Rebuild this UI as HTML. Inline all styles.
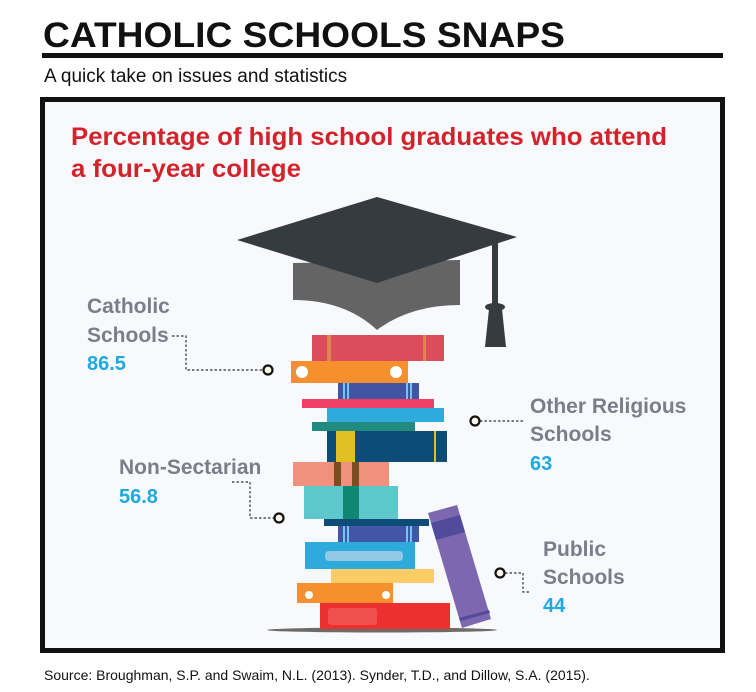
<!DOCTYPE html>
<html><head><meta charset="utf-8"><style>
html,body{margin:0;padding:0;background:#fff;}
body{width:756px;height:692px;overflow:hidden;position:relative;font-family:"Liberation Sans",sans-serif;}
svg{position:absolute;left:0;top:0;}
</style></head><body>
<svg width="756" height="692" viewBox="0 0 756 692" xmlns="http://www.w3.org/2000/svg" font-family="Liberation Sans, sans-serif">
<text x="43" y="47" font-size="35" font-weight="bold" fill="#111" textLength="522" lengthAdjust="spacingAndGlyphs">CATHOLIC SCHOOLS SNAPS</text>
<rect x="42" y="53" width="681" height="5" fill="#111"/>
<text x="44" y="82" font-size="19" fill="#111">A quick take on issues and statistics</text>
<rect x="42.5" y="99.5" width="680" height="551" fill="#f8f9fc" stroke="#111" stroke-width="5"/>
<text x="71" y="145" font-size="25" font-weight="bold" fill="#d3232a" textLength="596" lengthAdjust="spacingAndGlyphs">Percentage of high school graduates who attend</text>
<text x="71" y="177" font-size="25" font-weight="bold" fill="#d3232a" textLength="230" lengthAdjust="spacingAndGlyphs">a four-year college</text>
<!-- cap -->
<path d="M293,263 L460,260 L460,305 Q410,305 377,330 Q345,300 293,300 Z" fill="#646464"/>
<polygon points="237,240 377,197 517,237 377,283" fill="#353b3f"/>
<rect x="492" y="243" width="6" height="62" fill="#353b3f"/>
<ellipse cx="495" cy="307" rx="10" ry="4" fill="#353b3f"/>
<polygon points="489,309 502,309 506,347 485,347" fill="#353b3f"/>
<!-- books -->
<ellipse cx="382" cy="630" rx="115" ry="2.5" fill="#6e6a66"/>
<rect x="312" y="335" width="132" height="26" fill="#dc4d5b"/>
<rect x="327" y="335" width="4" height="26" fill="#e08550"/><rect x="423" y="335" width="3" height="26" fill="#e08550"/>
<rect x="291" y="361" width="117" height="22" fill="#f6902f"/>
<circle cx="302" cy="372" r="6" fill="#fff"/><circle cx="396" cy="372" r="6" fill="#fff"/>
<rect x="338" y="383" width="81" height="16" fill="#4254a3"/>
<rect x="343" y="383" width="2" height="16" fill="#6fc8ef"/><rect x="347" y="383" width="2" height="16" fill="#6fc8ef"/>
<rect x="406" y="383" width="2" height="16" fill="#6fc8ef"/><rect x="410" y="383" width="2" height="16" fill="#6fc8ef"/>
<rect x="302" y="399" width="132" height="9" fill="#ee3f68"/>
<rect x="327" y="408" width="117" height="14" fill="#2eaadc"/>
<rect x="312" y="422" width="103" height="9" fill="#228b80"/>
<rect x="327" y="431" width="120" height="31" fill="#0e4c78"/>
<rect x="336" y="431" width="19" height="31" fill="#e2bf22"/><rect x="434" y="431" width="2" height="31" fill="#e2bf22"/>
<rect x="293" y="462" width="96" height="24" fill="#ef917c"/>
<rect x="334" y="462" width="7" height="24" fill="#7b4e22"/><rect x="352" y="462" width="7" height="24" fill="#7b4e22"/>
<rect x="304" y="486" width="94" height="33" fill="#5ec7cb"/>
<rect x="343" y="486" width="16" height="33" fill="#108772"/>
<rect x="324" y="519" width="105" height="7" fill="#0e4c78"/>
<rect x="338" y="526" width="81" height="16" fill="#4255a6"/>
<rect x="343" y="526" width="2" height="16" fill="#6fc8ef"/><rect x="347" y="526" width="2" height="16" fill="#6fc8ef"/>
<rect x="406" y="526" width="2" height="16" fill="#6fc8ef"/><rect x="410" y="526" width="2" height="16" fill="#6fc8ef"/>
<rect x="305" y="542" width="110" height="27" fill="#2eaadc"/>
<rect x="325" y="551" width="78" height="10" rx="4" fill="#94c9e3"/>
<rect x="331" y="569" width="103" height="14" fill="#fdcc67"/>
<rect x="297" y="583" width="96" height="20" fill="#f6902f"/>
<circle cx="309" cy="595" r="4" fill="#fff"/><circle cx="386" cy="595" r="4" fill="#fff"/>
<rect x="320" y="603" width="130" height="26" fill="#ec2f2f"/>
<rect x="328" y="608" width="49" height="17" rx="3" fill="#f05050"/>
<polygon points="428,513 457,505 491,619 462,628" fill="#7d68b0"/>
<polygon points="431,523 460,515 465,532 436,540" fill="#524a9b"/>
<polygon points="459,618 489,610 490,613 460,621" fill="#524a9b"/>
<!-- connectors -->
<g fill="none" stroke="#333" stroke-width="1.2" stroke-dasharray="2.5,2">
<polyline points="172,336 186,336 186,370 263,370"/>
<polyline points="480,421 525,421"/>
<polyline points="232,482 250,482 250,518 274,518"/>
<polyline points="505,573 523,573 523,592 531,592"/>
</g>
<g fill="#fff8e8" stroke="#111" stroke-width="2.2">
<circle cx="268" cy="370" r="4.5"/><circle cx="475" cy="421" r="4.5"/><circle cx="279" cy="518" r="4.5"/><circle cx="500" cy="573" r="4.5"/>
</g>
<g font-size="21" font-weight="bold" fill="#7b7e8a">
<text x="87" y="313">Catholic</text><text x="87" y="342">Schools</text>
<text x="530" y="413">Other Religious</text><text x="530" y="441">Schools</text>
<text x="119" y="474">Non-Sectarian</text>
<text x="543" y="556">Public</text><text x="543" y="584">Schools</text>
</g>
<g font-size="20" font-weight="bold" fill="#1fa9e1">
<text x="87" y="370">86.5</text><text x="530" y="470">63</text><text x="119" y="503">56.8</text><text x="543" y="612">44</text>
</g>
<text x="44" y="680" font-size="14" fill="#111">Source: Broughman, S.P. and Swaim, N.L. (2013). Synder, T.D., and Dillow, S.A. (2015).</text>
</svg>
</body></html>
